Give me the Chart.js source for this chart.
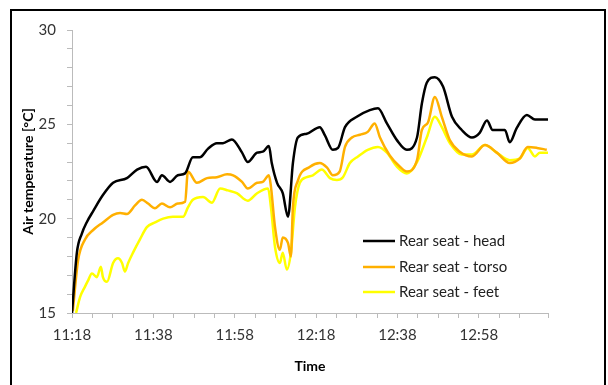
<!DOCTYPE html>
<html>
<head>
<meta charset="utf-8">
<script src="https://cdn.jsdelivr.net/npm/chart.js@4/dist/chart.umd.min.js"></script>
<style>
  html, body { margin: 0; padding: 0; background: #fff; }
  #wrap { width: 608px; height: 385px; }
</style>
</head>
<body>
<div id="wrap"><canvas id="myChart" width="608" height="385"></canvas></div>
<script>
// minutes after 11:18
const headMin = [0, 1.2, 2.4, 3.6, 5.2, 7.6, 10.1, 13.5, 16.0, 18.2, 20.9, 22.1, 24.1, 26.0, 27.8, 29.7, 31.4, 33.4, 35.6, 37.1, 39.3, 41.8, 43.2, 45.5, 46.9, 48.4, 49.1, 50.4, 51.8, 53.1, 54.3, 55.5, 57.7, 60.9, 62.2, 64.1, 65.4, 67.1, 70.0, 73.2, 75.2, 77.4, 79.9, 82.3, 84.8, 86.0, 87.2, 89.2, 91.2, 93.4, 95.8, 98.3, 100.2, 102.0, 103.4, 106.4, 107.6, 109.3, 111.8, 113.8, 117.0];
const headTemp = [15.0, 18.2, 19.2, 19.8, 20.4, 21.25, 21.9, 22.15, 22.6, 22.75, 21.95, 22.3, 21.95, 22.3, 22.4, 23.25, 23.25, 23.7, 24.0, 24.0, 24.2, 23.5, 23.0, 23.5, 23.55, 23.85, 22.95, 21.9, 21.35, 20.1, 22.95, 24.3, 24.5, 24.85, 24.4, 23.65, 23.75, 24.85, 25.4, 25.75, 25.85, 25.05, 24.15, 23.65, 24.3, 26.1, 27.2, 27.5, 27.0, 25.4, 24.7, 24.3, 24.55, 25.2, 24.7, 24.7, 24.05, 24.8, 25.5, 25.25, 25.25];

const torsoMin = [0.2, 1.5, 3.2, 5.2, 7.6, 10.1, 11.8, 13.5, 15.5, 17.2, 18.7, 20.4, 22.1, 24.1, 26.0, 27.8, 28.5, 30.7, 33.2, 35.6, 38.1, 39.6, 41.8, 43.2, 45.5, 46.9, 48.4, 48.9, 49.9, 51.1, 51.8, 53.1, 53.8, 54.3, 55.5, 58.5, 60.9, 62.7, 64.1, 65.8, 67.1, 68.8, 70.8, 72.7, 74.4, 75.7, 78.1, 80.6, 82.3, 84.8, 86.0, 87.5, 89.2, 90.9, 92.9, 95.3, 98.3, 101.5, 104.4, 107.6, 110.1, 112.0, 114.3, 116.7];
const torsoTemp = [15.1, 17.8, 18.9, 19.4, 19.8, 20.2, 20.3, 20.25, 20.7, 21.0, 20.8, 20.55, 20.8, 20.6, 20.8, 20.9, 22.5, 21.9, 22.15, 22.2, 22.35, 22.3, 21.95, 21.6, 21.9, 21.95, 22.3, 21.7, 19.55, 18.35, 19.0, 18.7, 18.0, 20.6, 22.0, 22.75, 22.95, 22.7, 22.3, 22.5, 23.8, 24.3, 24.45, 24.6, 25.05, 24.3, 23.35, 22.75, 22.5, 23.1, 24.7, 25.1, 26.45, 25.4, 24.15, 23.55, 23.3, 23.9, 23.5, 22.95, 23.2, 23.8, 23.75, 23.65];

const feetMin = [1.0, 2.0, 3.2, 3.9, 4.9, 6.1, 7.1, 7.6, 8.6, 10.1, 11.3, 12.3, 13.0, 13.8, 15.0, 16.7, 18.4, 20.4, 22.4, 24.8, 27.3, 28.5, 29.7, 32.2, 34.4, 36.4, 38.3, 40.5, 43.2, 45.5, 48.2, 48.9, 49.9, 51.1, 51.8, 52.8, 53.8, 54.8, 56.0, 57.7, 59.2, 61.4, 63.4, 65.1, 66.6, 68.3, 70.3, 72.7, 75.2, 77.4, 79.9, 82.3, 84.8, 87.2, 89.2, 90.9, 92.9, 95.8, 98.3, 101.5, 104.4, 107.6, 110.1, 112.0, 113.8, 115.0, 117.0];
const feetTemp = [15.0, 15.85, 16.4, 16.7, 17.1, 16.9, 17.45, 16.9, 16.65, 17.65, 17.9, 17.65, 17.2, 17.65, 18.2, 18.9, 19.55, 19.8, 20.0, 20.1, 20.1, 20.6, 21.0, 21.15, 20.85, 21.6, 21.5, 21.35, 20.95, 21.35, 21.6, 20.6, 18.5, 17.65, 18.2, 17.3, 18.2, 20.6, 21.9, 22.2, 22.3, 22.6, 22.15, 22.05, 22.2, 22.95, 23.3, 23.65, 23.8, 23.5, 22.75, 22.4, 23.0, 24.3, 25.4, 24.85, 24.0, 23.4, 23.4, 23.9, 23.5, 23.1, 23.2, 23.75, 23.3, 23.5, 23.5];

const seriesNames = ['Rear seat - head', 'Rear seat - torso', 'Rear seat - feet'];
const startHour = 11, startMinute = 18;

function pts(xs, ys) {
  return xs.map((x, i) => ({ x: x, y: ys[i] }));
}

function timeLabel(v) {
  const t = startHour * 60 + startMinute + v;
  const h = Math.floor(t / 60), m = t % 60;
  return h + ':' + (m < 10 ? '0' : '') + m;
}

const frame = {
  id: 'frame',
  afterDraw(chart) {
    const c = chart.ctx;
    c.save();
    c.strokeStyle = '#000';
    c.lineWidth = 2;
    c.strokeRect(11, 10, 594, 400);
    c.restore();
  }
};

const boxLegend = {
  id: 'boxLegend',
  afterDraw(chart) {
    const c = chart.ctx;
    const a = chart.chartArea;
    const rows = [a.bottom - 72, a.bottom - 46, a.bottom - 21];
    c.save();
    c.font = '15px Lato';
    c.textBaseline = 'middle';
    chart.data.datasets.forEach((ds, i) => {
      c.strokeStyle = ds.borderColor;
      c.lineWidth = 2.5;
      c.beginPath();
      c.moveTo(a.right - 185, rows[i]);
      c.lineTo(a.right - 153, rows[i]);
      c.stroke();
      c.fillStyle = '#222';
      c.fillText(ds.label, a.right - 149, rows[i]);
    });
    c.restore();
  }
};

const ctx = document.getElementById('myChart').getContext('2d');
const myChart = new Chart(ctx, {
  type: 'line',
  data: {
    datasets: [
      { label: seriesNames[0], data: pts(headMin, headTemp), borderColor: '#000000' },
      { label: seriesNames[1], data: pts(torsoMin, torsoTemp), borderColor: '#FFB000' },
      { label: seriesNames[2], data: pts(feetMin, feetTemp), borderColor: '#FFFF00' }
    ]
  },
  options: {
    responsive: false,
    animation: false,
    layout: { padding: { left: 12, top: 30, right: 60, bottom: 0 } },
    elements: {
      point: { radius: 0 },
      line: { borderWidth: 2.5, tension: 0.3, cubicInterpolationMode: 'monotone' }
    },
    scales: {
      x: {
        type: 'linear',
        min: 0,
        max: 117,
        afterFit: s => { s.height = 72; },
        grid: { drawOnChartArea: false, tickLength: 5, color: '#bbb' },
        border: { color: '#bbb' },
        ticks: {
          stepSize: 5,
          autoSkip: false,
          maxRotation: 0,
          padding: 8,
          color: '#333',
          font: { family: 'Lato', size: 15 },
          callback: v => (v % 20 === 0 ? timeLabel(v) : '')
        },
        title: {
          display: true,
          text: 'Time',
          color: '#000',
          font: { family: 'Lato', size: 14, weight: 'bold' },
          padding: { top: 0, bottom: 10 }
        }
      },
      y: {
        min: 15,
        max: 30,
        afterFit: s => { s.width = 60; },
        grid: { drawOnChartArea: false, tickLength: 5, color: '#bbb' },
        border: { color: '#bbb' },
        ticks: {
          stepSize: 1,
          autoSkip: false,
          padding: 11,
          color: '#333',
          font: { family: 'Lato', size: 15 },
          callback: v => (v % 5 === 0 ? v : '')
        },
        title: {
          display: true,
          text: 'Air temperature [°C]',
          color: '#000',
          font: { family: 'Lato', size: 14, weight: 'bold' },
          padding: { top: 8, bottom: 0 }
        }
      }
    },
    plugins: {
      legend: { display: false },
      tooltip: { enabled: false }
    }
  },
  plugins: [frame, boxLegend]
});
</script>
</body>
</html>
